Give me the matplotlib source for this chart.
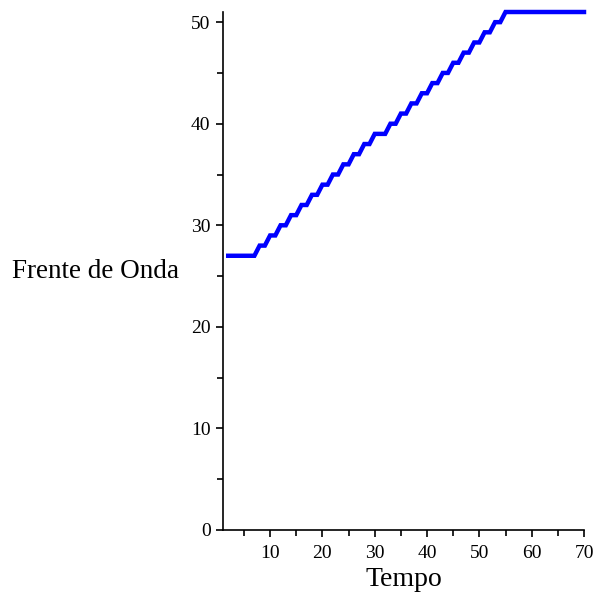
import matplotlib
matplotlib.use("Agg")
import matplotlib.pyplot as plt
from matplotlib.ticker import MultipleLocator

plt.rcParams['font.family'] = ['Liberation Serif', 'DejaVu Serif']

tempo = list(range(2, 71))
frente = ([27] * 6 +
          [28, 28, 29, 29, 30, 30, 31, 31, 32, 32, 33, 33, 34, 34, 35, 35,
           36, 36, 37, 37, 38, 38, 39, 39, 39, 40, 40, 41, 41, 42, 42, 43, 43,
           44, 44, 45, 45, 46, 46, 47, 47, 48, 48, 49, 49, 50, 50] +
          [51] * 16)

x_label = "Tempo"
y_label = "Frente de Onda"

fig = plt.figure(figsize=(5.95, 5.95), dpi=100)
ax = fig.add_axes([223/595, 65/595, (584-223)/595, (530-12)/595])
ax.plot(tempo, frente, color=(0, 0, 1), lw=3.2, solid_joinstyle='miter',
        clip_on=False)
ax.set_xlim(1, 70)
ax.set_ylim(0, 51)
for s in ['top', 'right']:
    ax.spines[s].set_visible(False)
for s in ['left', 'bottom']:
    ax.spines[s].set_linewidth(1.2)
ax.xaxis.set_major_locator(MultipleLocator(10))
ax.xaxis.set_minor_locator(MultipleLocator(5))
ax.yaxis.set_major_locator(MultipleLocator(10))
ax.yaxis.set_minor_locator(MultipleLocator(5))
ax.tick_params(which='major', length=5, width=1.2, labelsize=14, pad=4)
ax.tick_params(which='minor', length=4, width=1.2)
ax.tick_params(axis='x', which='major', pad=6)
fig.text(404/595, 1 - 580/595, x_label, fontsize=20, ha='center', va='center')
fig.text(12/595, 1 - 272/595, y_label, fontsize=19.5, ha='left', va='center')
fig.savefig("out.png", dpi=100)
